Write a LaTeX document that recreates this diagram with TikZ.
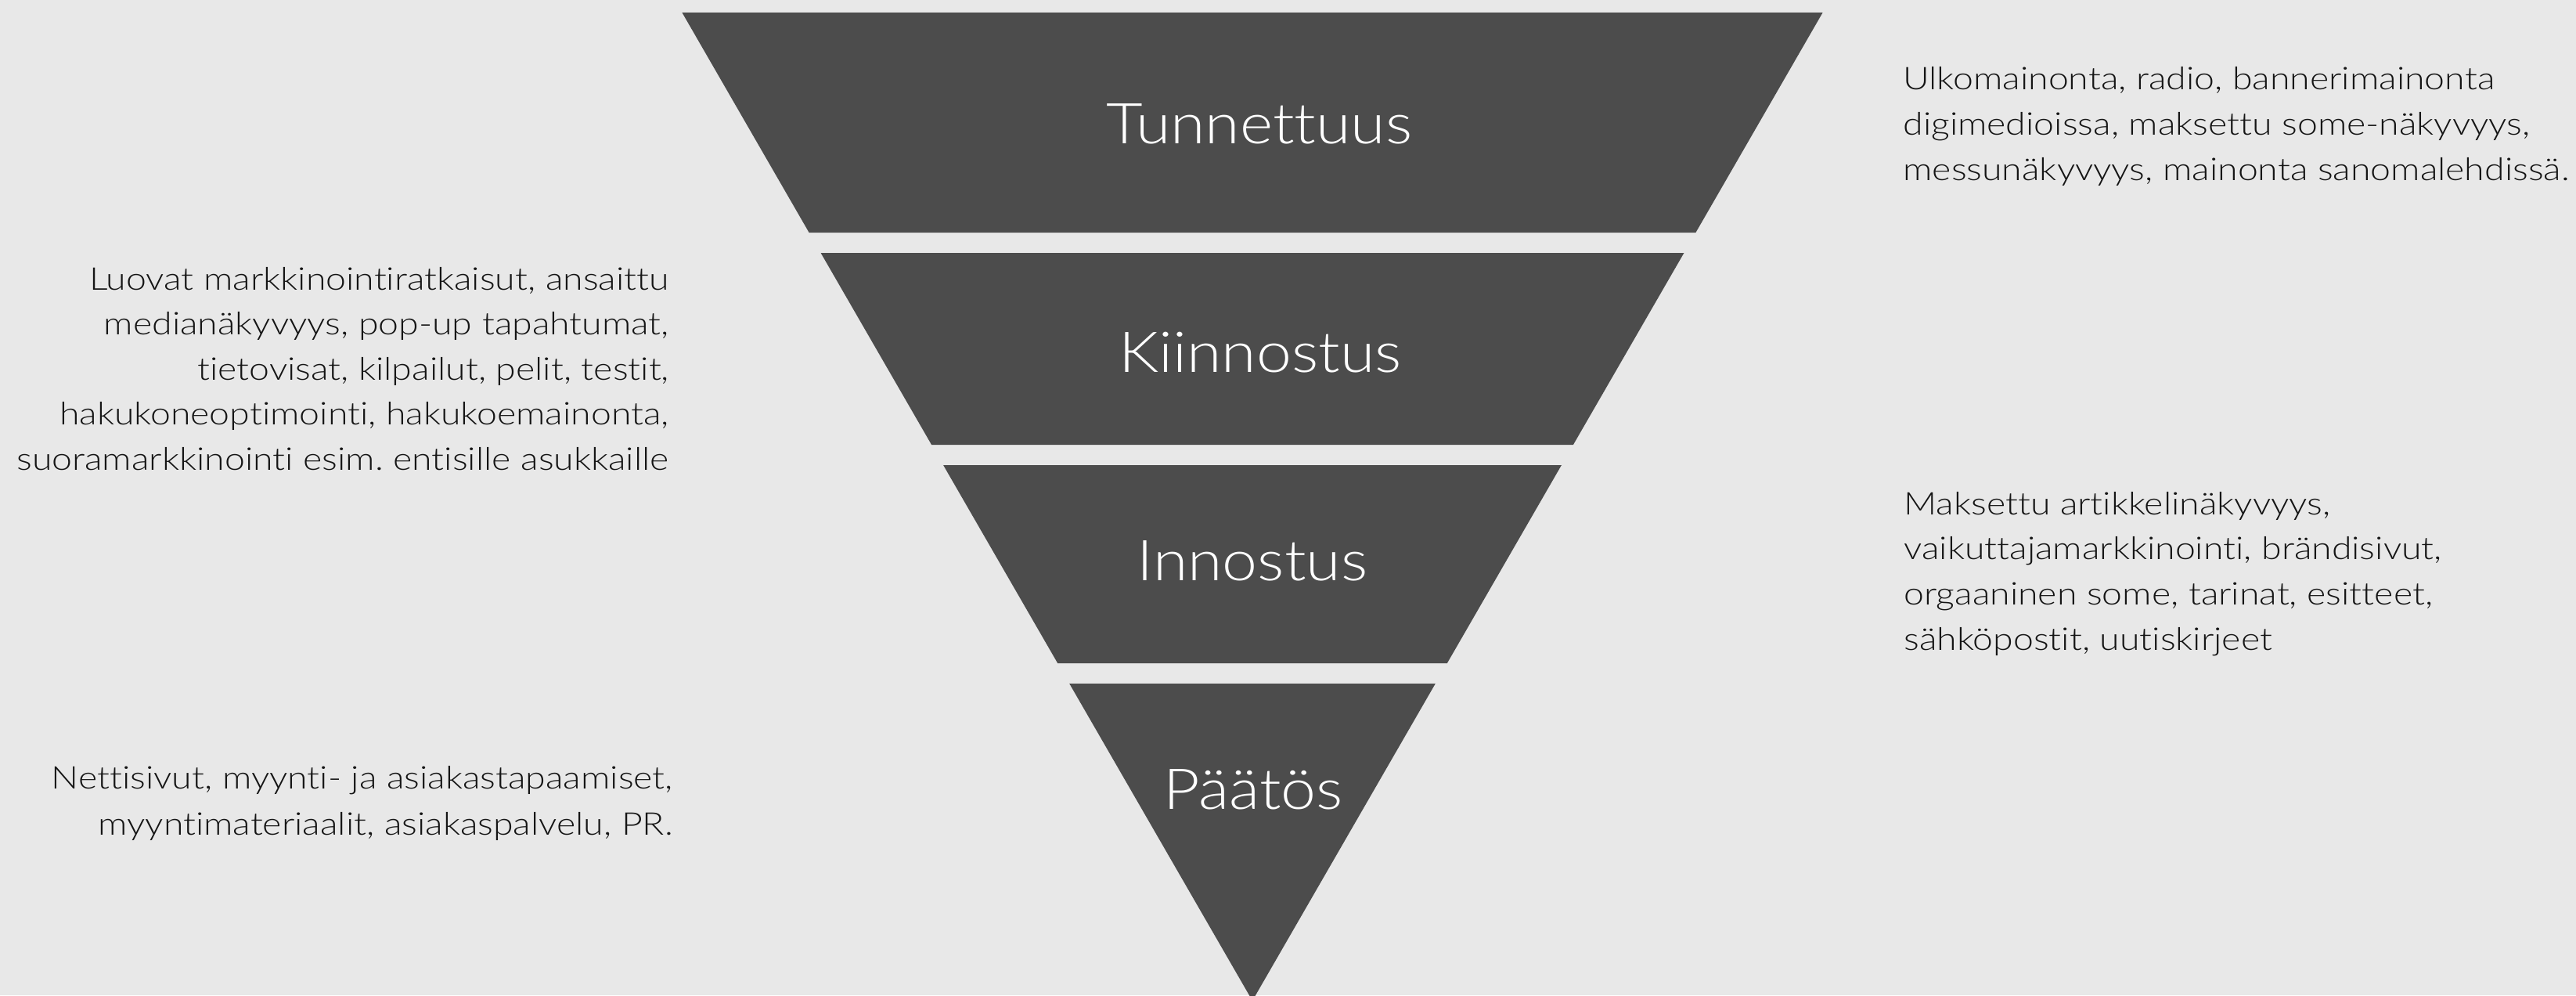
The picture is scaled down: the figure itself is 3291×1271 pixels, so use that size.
\documentclass[tikz,border=0pt]{standalone}
\usepackage{fontspec}
\setmainfont{Lato}[UprightFont={* Light}, FakeStretch=1.12, Ligatures=NoCommon]
\newfontfamily\sidefont{Lato}[UprightFont={* Light}, FakeStretch=1.16, Ligatures=NoCommon]
\frenchspacing
\definecolor{bg}{HTML}{E8E8E8}
\definecolor{funnel}{HTML}{4C4C4C}
\definecolor{ink}{HTML}{151515}
\begin{document}
\begin{tikzpicture}[x=0.5pt,y=-0.5pt,
  stage/.style={font=\fontsize{36}{40}\selectfont, text=white, inner sep=0pt, anchor=base},
  side/.style={font=\sidefont\fontsize{20}{29}\selectfont, text=ink, inner sep=0pt},
  band/.style={fill=funnel}]
\useasboundingbox (0,0) rectangle (3291,1271);
\clip (0,0) rectangle (3291,1271);
\fill[bg] (0,0) rectangle (3291,1271);
% funnel bands
\fill[band] (871.4,16) -- (2328.6,16) -- (2166.4,297) -- (1033.6,297) -- cycle;
\fill[band] (1048.6,323) -- (2151.4,323) -- (2009.9,568) -- (1190.1,568) -- cycle;
\fill[band] (1205.1,594) -- (1994.9,594) -- (1848.8,847) -- (1351.2,847) -- cycle;
\fill[band] (1366.2,873) -- (1833.8,873) -- (1600,1278) -- cycle;
% stage labels
\node[stage] (tunnettuus) at (1609,183) {Tunnettuus};
\node[stage] (kiinnostus) at (1610,475) {Kiinnostus};
\node[stage] (innostus) at (1600,741) {Innostus};
\node[stage] (paatos) at (1601,1033) {Päätös};
% side texts
\foreach \t [count=\i] in {{Ulkomainonta, radio, bannerimainonta},{digimedioissa, maksettu some-näkyvyys,},{messunäkyvyys, mainonta sanomalehdissä.}}
  \node[side, anchor=base west] (awareness-\i) at (2431,{114+58*(\i-1)}) {\t};
\foreach \t [count=\i] in {{Luovat markkinointiratkaisut, ansaittu},{medianäkyvyys, pop-up tapahtumat,},{tietovisat, kilpailut, pelit, testit,},{hakukoneoptimointi, hakukoemainonta,},{suoramarkkinointi esim. entisille asukkaille}}
  \node[side, anchor=base east] (interest-\i) at (855,{370+57.5*(\i-1)}) {\t};
\foreach \t [count=\i] in {{Maksettu artikkelinäkyvyys,},{vaikuttajamarkkinointi, brändisivut,},{orgaaninen some, tarinat, esitteet,},{sähköpostit, uutiskirjeet}}
  \node[side, anchor=base west] (desire-\i) at (2432,{657+57.7*(\i-1)}) {\t};
\foreach \t [count=\i] in {{Nettisivut, myynti- ja asiakastapaamiset,},{myyntimateriaalit, asiakaspalvelu, PR.}}
  \node[side, anchor=base east] (decision-\i) at (860,{1007+59*(\i-1)}) {\t};
\end{tikzpicture}
\end{document}
